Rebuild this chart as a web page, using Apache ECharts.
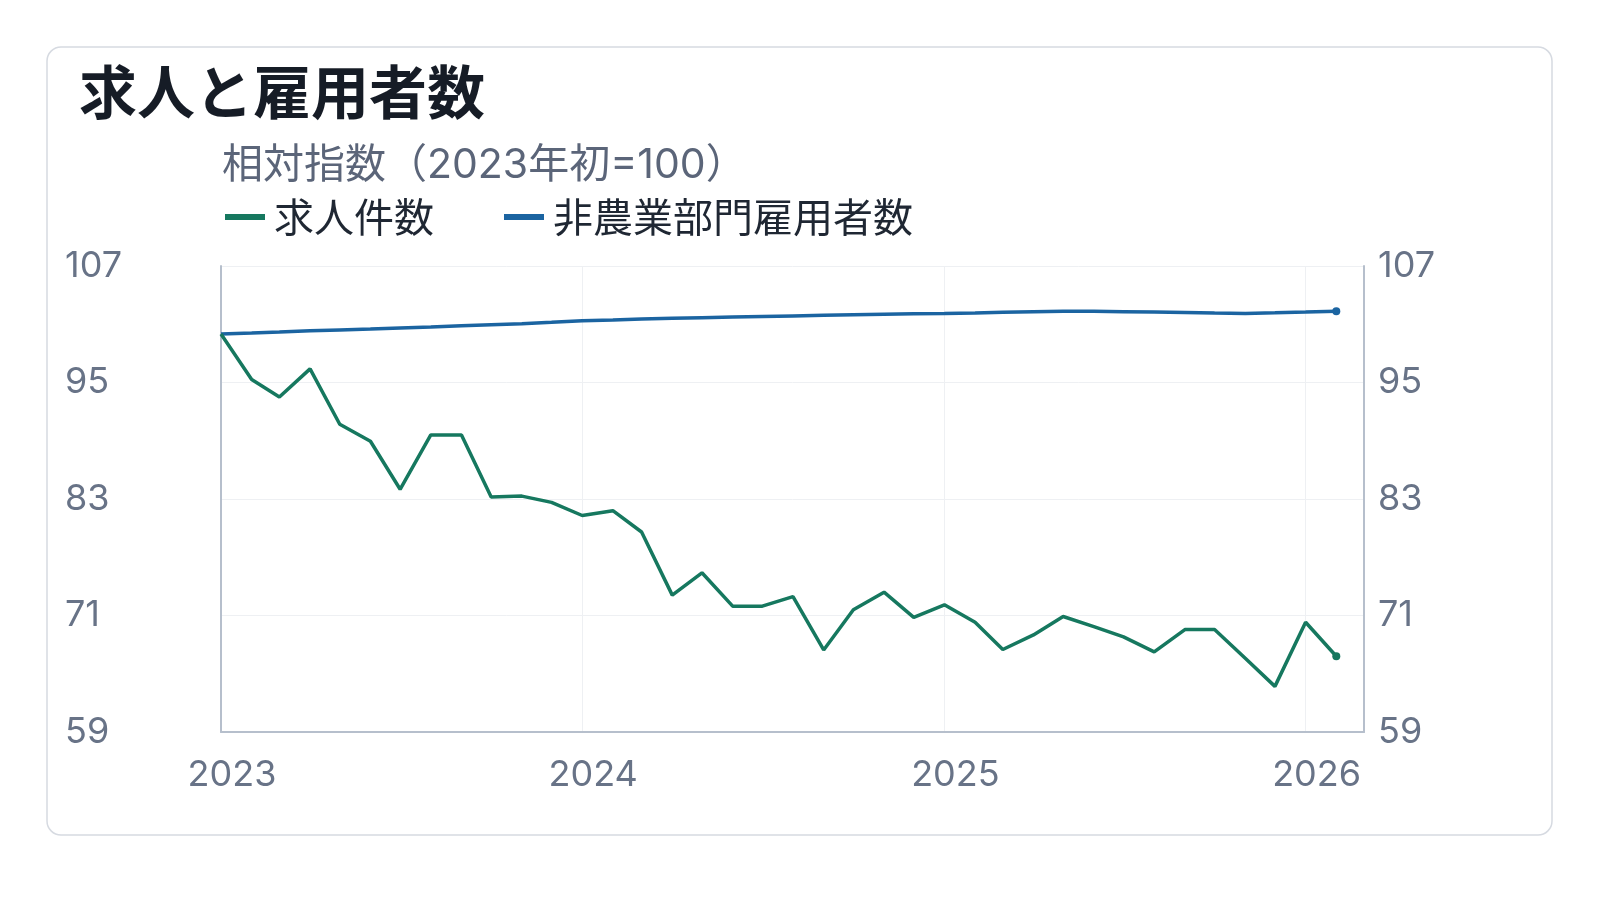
<!DOCTYPE html>
<html>
<head>
<meta charset="utf-8">
<script src="https://cdn.jsdelivr.net/npm/echarts@6/dist/echarts.min.js"></script>
<style>
  html, body { margin: 0; padding: 0; background: #ffffff; }
  #main { width: 1600px; height: 900px; }
</style>
</head>
<body>
<div id="main"></div>
<script>
// 月初の日付（2023年1月〜2026年2月）
const months = [
  '2023-01-01', '2023-02-01', '2023-03-01', '2023-04-01', '2023-05-01', '2023-06-01',
  '2023-07-01', '2023-08-01', '2023-09-01', '2023-10-01', '2023-11-01', '2023-12-01',
  '2024-01-01', '2024-02-01', '2024-03-01', '2024-04-01', '2024-05-01', '2024-06-01',
  '2024-07-01', '2024-08-01', '2024-09-01', '2024-10-01', '2024-11-01', '2024-12-01',
  '2025-01-01', '2025-02-01', '2025-03-01', '2025-04-01', '2025-05-01', '2025-06-01',
  '2025-07-01', '2025-08-01', '2025-09-01', '2025-10-01', '2025-11-01', '2025-12-01',
  '2026-01-01', '2026-02-01'
]

// 求人件数
const jobOpenings = [
  100, 95.3, 93.5, 96.4, 90.7, 88.95, 84.0, 89.6, 89.6, 83.2, 83.3, 82.65,
  81.3, 81.8, 79.6, 73.1, 75.4, 71.96, 71.96, 72.95, 67.45, 71.6, 73.4, 70.8,
  72.1, 70.3, 67.5, 69.0, 70.9, 69.85, 68.8, 67.25, 69.55, 69.55, 66.6, 63.7,
  70.3, 66.8
]

// 非農業部門雇用者数
const payrolls = [
  100, 100.1, 100.2, 100.32, 100.42, 100.52, 100.62, 100.72, 100.85, 100.95, 101.05, 101.2,
  101.37, 101.45, 101.55, 101.62, 101.68, 101.74, 101.8, 101.86, 101.92, 101.98, 102.04, 102.08,
  102.1, 102.15, 102.24, 102.3, 102.33, 102.33, 102.3, 102.26, 102.22, 102.15, 102.12, 102.18,
  102.25, 102.35
]

const seriesNames = ['求人件数', '非農業部門雇用者数']
const seriesColors = ['#16785f', '#1b64a1']
const yTicks = { min: 59, max: 107, interval: 12 }

const cjk = '"Noto Sans CJK JP", "Noto Sans", sans-serif'
const num = 'Inter, "Noto Sans CJK JP", sans-serif'
const labelColor = '#687387'

const lastIdx = months.length - 1
const toPairs = (vals) => months.map((m, i) => [m, vals[i]])

const myChart = echarts.init(document.getElementById('main'), null, { renderer: 'canvas' })

myChart.setOption({
  animation: false,
  backgroundColor: '#ffffff',
  graphic: [{
    type: 'rect',
    shape: { x: 47, y: 47, width: 1505, height: 788, r: 14 },
    style: { fill: '#ffffff', stroke: '#d6dae1', lineWidth: 1.5 },
    z: -10,
    silent: true
  }],
  title: [
    {
      text: '求人と雇用者数',
      left: 74,
      top: 58,
      textStyle: { fontFamily: cjk, fontSize: 58, fontWeight: 'bold', color: '#161c26' }
    },
    {
      text: '相対指数（2023年初=100）',
      left: 217,
      top: 140,
      textStyle: { fontFamily: num, fontSize: 41, fontWeight: 'normal', color: '#5b6579' }
    }
  ],
  legend: {
    left: 220,
    top: 192,
    icon: 'rect',
    itemWidth: 40,
    itemHeight: 6,
    itemGap: 70,
    textStyle: { fontFamily: cjk, fontSize: 40, color: '#1f2733', padding: [0, 0, 0, 4] },
    data: seriesNames
  },
  grid: {
    left: 221,
    right: 236,
    top: 266,
    bottom: 168
  },
  xAxis: {
    type: 'time',
    min: '2023-01-01',
    max: '2026-03-01',
    minInterval: 365 * 24 * 3600 * 1000,
    axisLine: { show: true, lineStyle: { color: '#b6bfcc', width: 2 } },
    axisTick: { show: false },
    splitLine: { show: true, lineStyle: { color: '#eef0f3', width: 1 } },
    axisLabel: {
      fontFamily: num,
      fontSize: 36,
      color: labelColor,
      margin: 25,
      padding: [0, 0, 0, 22],
      hideOverlap: false,
      showMinLabel: true,
      showMaxLabel: false,
      formatter: (v) => {
        const d = new Date(v)
        return d.getMonth() === 0 && d.getDate() === 1 ? String(d.getFullYear()) : ''
      }
    }
  },
  yAxis: [
    {
      type: 'value',
      min: yTicks.min,
      max: yTicks.max,
      interval: yTicks.interval,
      axisLine: { show: true, lineStyle: { color: '#b6bfcc', width: 2 } },
      axisTick: { show: false },
      splitLine: { show: true, lineStyle: { color: '#eef0f3', width: 1 } },
      axisLabel: { fontFamily: num, fontSize: 36, color: labelColor, align: 'left', margin: 156 }
    },
    {
      type: 'value',
      position: 'right',
      min: yTicks.min,
      max: yTicks.max,
      interval: yTicks.interval,
      axisLine: { show: true, lineStyle: { color: '#b6bfcc', width: 2 } },
      axisTick: { show: false },
      splitLine: { show: false },
      axisLabel: { fontFamily: num, fontSize: 36, color: labelColor, align: 'left', margin: 14 }
    }
  ],
  series: [
    {
      name: seriesNames[0],
      type: 'line',
      data: toPairs(jobOpenings),
      color: seriesColors[0],
      lineStyle: { width: 3.5 },
      symbol: 'circle',
      showSymbol: true,
      showAllSymbol: true,
      symbolSize: (val, params) => params.dataIndex === lastIdx ? 8 : 0,
      z: 3
    },
    {
      name: seriesNames[1],
      type: 'line',
      data: toPairs(payrolls),
      color: seriesColors[1],
      lineStyle: { width: 3.5 },
      symbol: 'circle',
      showSymbol: true,
      showAllSymbol: true,
      symbolSize: (val, params) => params.dataIndex === lastIdx ? 8 : 0,
      z: 2
    }
  ]
})

window.addEventListener('resize', () => { myChart.resize() })
</script>
</body>
</html>
